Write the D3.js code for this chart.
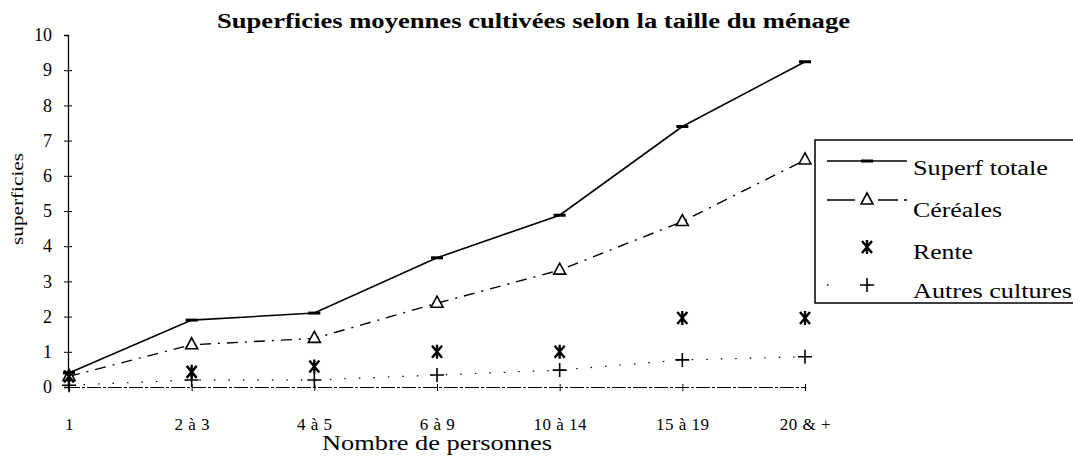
<!DOCTYPE html>
<html lang="fr">
<head>
  <meta charset="UTF-8">
  <title>Superficies moyennes cultivées</title>
  <style>
    body { margin: 0; background: #fff; }
    svg { display: block; font-family: "Liberation Serif", "DejaVu Serif", serif; }
  </style>
</head>
<body>
  <svg width="1073" height="459"></svg>

  <script src="https://d3js.org/d3.v7.min.js"></script>
  <script>
    // données
    const categories = ["1", "2 à 3", "4 à 5", "6 à 9", "10 à 14", "15 à 19", "20 & +"];
    const superfTotale = [0.4, 1.9, 2.1, 3.67, 4.88, 7.4, 9.24];
    const cereales = [0.3, 1.2, 1.38, 2.38, 3.32, 4.7, 6.45];
    const rente = [0.3, 0.43, 0.58, 1.0, 1.0, 1.96, 1.96];
    const autres = [0.05, 0.2, 0.2, 0.34, 0.48, 0.77, 0.86];
    const yTicks = [0, 1, 2, 3, 4, 5, 6, 7, 8, 9, 10];
    const seriesNames = ["Superf totale", "Céréales", "Rente", "Autres cultures"];

    const svg = d3.select("svg");
    const x = d3.scalePoint().domain(categories).range([69, 805]);
    const y = d3.scaleLinear().domain([0, 10]).range([387, 35]);

    // titre
    svg.append("text")
      .attr("x", 217).attr("y", 28)
      .attr("font-size", 20).attr("font-weight", "bold")
      .attr("textLength", 633).attr("lengthAdjust", "spacingAndGlyphs")
      .text("Superficies moyennes cultivées selon la taille du ménage");

    // axe Y
    const yAxis = svg.append("g").attr("transform", "translate(68,0)")
      .call(d3.axisLeft(y).tickValues(yTicks).tickSize(4).tickPadding(12));
    yAxis.attr("font-family", null).attr("font-size", null);
    yAxis.selectAll("text").style("font-size", "18px").attr("fill", "#000");
    yAxis.select(".domain").attr("stroke-width", 1.3);
    svg.append("g").attr("transform", "translate(68,0)")
      .call(d3.axisRight(y).tickValues(yTicks.filter(d => d > 0 && d < 10)).tickSize(4).tickFormat(""))
      .select(".domain").remove();

    svg.append("text")
      .attr("transform", "translate(23,199) rotate(-90)")
      .attr("text-anchor", "middle").style("font-size", "16px")
      .attr("textLength", 92).attr("lengthAdjust", "spacingAndGlyphs")
      .text("superficies");

    // axe X
    const xAxis = svg.append("g").attr("transform", `translate(0,${y(0)})`)
      .call(d3.axisBottom(x).tickSize(4).tickPadding(27));
    xAxis.attr("font-family", null).attr("font-size", null);
    xAxis.selectAll(".tick line").attr("y1", -3);
    xAxis.select(".domain").attr("stroke-dasharray", "14 2 3 2").attr("stroke-width", 1.2);
    xAxis.selectAll("text").style("font-size", "17px").style("letter-spacing", "0.5px").attr("fill", "#000");

    svg.append("text")
      .attr("x", 437).attr("y", 450)
      .attr("text-anchor", "middle").style("font-size", "20px")
      .attr("textLength", 230).attr("lengthAdjust", "spacingAndGlyphs")
      .text("Nombre de personnes");

    const line = d3.line().x((d, i) => x(categories[i])).y(d => y(d));

    // courbes
    svg.append("path").datum(superfTotale)
      .attr("fill", "none").attr("stroke", "#000").attr("stroke-width", 1.6).attr("d", line);
    svg.append("path").datum(cereales)
      .attr("fill", "none").attr("stroke", "#000").attr("stroke-width", 1.4)
      .attr("stroke-dasharray", "11 7 2 7").attr("d", line);
    svg.append("path").datum(autres)
      .attr("fill", "none").attr("stroke", "#000").attr("stroke-width", 1.2)
      .attr("stroke-dasharray", "1.5 13").attr("d", line);

    // marqueurs
    function dashMark(g, cx, cy) {
      g.append("rect").attr("x", cx - 6).attr("y", cy - 1.5).attr("width", 12).attr("height", 3).attr("fill", "#000");
    }
    function triMark(g, cx, cy) {
      g.append("path").attr("d", `M${cx},${cy - 7}L${cx + 6},${cy + 4}L${cx - 6},${cy + 4}Z`)
        .attr("fill", "#fff").attr("stroke", "#000").attr("stroke-width", 1.6);
    }
    function starMark(g, cx, cy) {
      g.append("path").attr("d", `M${cx - 5},${cy - 6}L${cx + 5},${cy + 6}M${cx + 5},${cy - 6}L${cx - 5},${cy + 6}M${cx},${cy - 7}L${cx},${cy + 7}`)
        .attr("stroke", "#000").attr("stroke-width", 2.4).attr("fill", "none");
    }
    function plusMark(g, cx, cy) {
      g.append("path").attr("d", `M${cx - 7},${cy}L${cx + 7},${cy}M${cx},${cy - 7}L${cx},${cy + 7}`)
        .attr("stroke", "#000").attr("stroke-width", 1.6).attr("fill", "none");
    }

    const marks = svg.append("g");
    superfTotale.forEach((v, i) => dashMark(marks, x(categories[i]), y(v)));
    cereales.forEach((v, i) => triMark(marks, x(categories[i]), y(v)));
    rente.forEach((v, i) => starMark(marks, x(categories[i]), y(v)));
    autres.forEach((v, i) => plusMark(marks, x(categories[i]), y(v)));

    // légende
    const leg = svg.append("g");
    leg.append("rect").attr("x", 815).attr("y", 140).attr("width", 270).attr("height", 163)
      .attr("fill", "#fff").attr("stroke", "#000").attr("stroke-width", 1.5);
    const legSymY = [161, 200, 247, 285];
    const legTextY = [175, 217, 259, 298];
    const legW = [135, 89, 60, 159];
    const styles = [
      { dash: null, mark: dashMark },
      { dash: "28 10 3 10 20 6", mark: triMark },
      { dash: "none", mark: starMark },
      { dash: "1.5 40", mark: plusMark }
    ];
    seriesNames.forEach((name, i) => {
      const ly = legSymY[i];
      const st = styles[i];
      if (st.dash !== "none") {
        leg.append("line").attr("x1", 827).attr("x2", 907).attr("y1", ly).attr("y2", ly)
          .attr("stroke", "#000").attr("stroke-width", 1.5)
          .attr("stroke-dasharray", st.dash);
      }
      st.mark(leg, 867, ly);
      leg.append("text").attr("x", 913).attr("y", legTextY[i])
        .style("font-size", "20px")
        .attr("textLength", legW[i]).attr("lengthAdjust", "spacingAndGlyphs")
        .text(name);
    });
  </script>
</body>
</html>
